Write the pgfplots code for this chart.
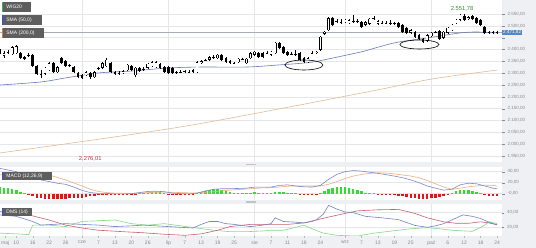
\documentclass[border=0pt]{standalone}
\usepackage{pgfplots}
\pgfplotsset{compat=1.18}
\usepackage{pgfplotstable}
\usepackage{fontspec}
\setmainfont{Liberation Sans}
\definecolor{bg}{HTML}{EEF0F3}
\definecolor{grd}{HTML}{E4E6EA}
\definecolor{tck}{HTML}{868A92}
\definecolor{smab}{HTML}{6C7AB8}
\definecolor{smat}{HTML}{E4BA92}
\definecolor{macdb}{HTML}{7C86C8}
\definecolor{macds}{HTML}{EBAE84}
\definecolor{hgreen}{HTML}{2EE02E}
\definecolor{hred}{HTML}{E01515}
\definecolor{dmsb}{HTML}{7482C6}
\definecolor{dmsg}{HTML}{86D886}
\definecolor{dmsr}{HTML}{C86070}
\definecolor{lbl}{HTML}{5E5E5E}
\definecolor{pricebox}{HTML}{4F88C8}
\definecolor{wgreen}{HTML}{3DB43D}
\definecolor{sblue}{HTML}{3050D0}
\definecolor{sorange}{HTML}{E07A30}
\definecolor{handle}{HTML}{BFC3CA}
\definecolor{prl}{HTML}{A8ADB5}
\newcommand\ft[1]{\fontsize{#1}{#1}\selectfont}

\pgfplotstableread{
x o h l c
-20 2398 2402 2380 2385
-19 2373 2392 2366 2385
-18 2388 2396 2383 2390
-17 2381 2414 2378 2410
-16 2385 2418 2382 2413
-15 2386 2390 2360 2364
-14 2368 2372 2356 2360
-13 2375 2386 2368 2378
-12 2377 2380 2327 2330
-11 2330 2333 2293 2297
-10 2296 2315 2281 2293
-9 2297 2326 2292 2322
-8 2313 2348 2310 2343
-7 2343 2346 2301 2305
-6 2305 2330 2300 2326
-5 2364 2368 2340 2343
-4 2351 2355 2327 2330
-3 2333 2338 2326 2332
-2 2326 2329 2301 2305
-1 2300 2303 2281 2284
0 2292 2296 2277 2280
1 2292 2309 2288 2305
2 2300 2304 2276.01 2284
3 2282 2308 2279 2305
4 2318 2328 2314 2322
5 2322 2347 2318 2343
6 2330 2364 2327 2356
7 2343 2347 2302 2305
8 2305 2309 2294 2298
9 2300 2308 2294 2302
10 2301 2313 2298 2309
11 2313 2339 2310 2335
12 2330 2334 2311 2314
13 2292 2325 2285 2322
14 2322 2326 2306 2309
15 2316 2325 2311 2319
16 2322 2343 2319 2339
17 2330 2351 2327 2347
18 2326 2352 2323 2347
19 2339 2343 2318 2322
20 2326 2330 2301 2305
21 2326 2329 2297 2301
22 2322 2325 2297 2301
23 2305 2310 2298 2303
24 2303 2313 2299 2306
25 2305 2313 2301 2309
26 2307 2312 2299 2305
27 2313 2316 2301 2305
28 2305 2350 2302 2347
29 2344 2355 2340 2351
30 2355 2362 2350 2357
31 2356 2372 2352 2368
32 2367 2375 2362 2369
33 2364 2380 2361 2377
34 2377 2381 2353 2356
35 2364 2367 2344 2347
36 2351 2354 2340 2343
37 2344 2348 2338 2342
38 2347 2364 2344 2360
39 2359 2366 2355 2361
40 2343 2364 2340 2360
41 2364 2389 2361 2385
42 2377 2394 2374 2390
43 2385 2389 2365 2368
44 2385 2388 2364 2368
45 2384 2392 2380 2386
46 2377 2394 2374 2390
47 2385 2432 2382 2428
48 2428 2433 2403 2406
49 2410 2413 2382 2385
50 2390 2393 2374 2377
51 2380 2390 2375 2383
52 2378 2397 2374 2381
53 2385 2388 2352 2356
54 2364 2367 2343 2347
55 2347 2368 2343 2364
56 2384 2392 2380 2386
57 2385 2394 2381 2390
58 2398 2456 2395 2453
59 2466 2478 2462 2474
60 2482 2537 2479 2533
61 2533 2537 2500 2504
62 2516 2527 2512 2520
63 2515 2528 2509 2518
64 2516 2529 2512 2525
65 2512 2528 2508 2524
66 2520 2545 2514 2522
67 2521 2527 2513 2518
68 2516 2520 2491 2495
69 2504 2520 2500 2516
70 2508 2533 2504 2529
71 2530 2541 2524 2533
72 2508 2525 2504 2520
73 2513 2519 2507 2511
74 2511 2520 2506 2513
75 2510 2523 2505 2514
76 2512 2518 2505 2509
77 2512 2516 2492 2495
78 2504 2508 2470 2474
79 2491 2494 2466 2470
80 2470 2486 2466 2482
81 2474 2478 2449 2453
82 2461 2465 2440 2444
83 2444 2447 2428 2432
84 2436 2465 2432 2461
85 2457 2474 2453 2470
86 2473 2480 2469 2475
87 2478 2482 2440 2444
88 2449 2478 2445 2474
89 2470 2495 2466 2491
90 2482 2508 2479 2504
91 2512 2529 2508 2525
92 2525 2549 2521 2546
93 2542 2551.78 2521 2525
94 2529 2541 2525 2537
95 2541 2545 2525 2529
96 2533 2537 2508 2512
97 2525 2528 2500 2504
98 2495 2499 2466 2470
99 2474 2480 2465 2470
100 2471 2479 2467 2474
101 2474 2480 2466 2471.82
}\candles

\pgfplotstableread{
x v
-20 12
-19 11
-18 10
-17 8
-16 6
-15 3
-14 1
-13 -3
-12 -5
-11 -7
-10 -8.5
-9 -9.5
-8 -10
-7 -10
-6 -10
-5 -9.5
-4 -9
-3 -8.5
-2 -8
-1 -7.5
0 -7
1 -6
2 -5
3 -3.5
4 -2
5 -1
6 -1
7 -1.5
8 -2
9 -2
10 -1.5
11 -1
12 -0.5
13 -0.5
14 0.5
15 1
16 2
17 3
18 3
19 2.5
20 1.5
21 -0.5
22 -1.5
23 -2
24 -2
25 -2
26 -2
27 -1.5
28 1
29 3
30 5
31 7
32 8
33 8
34 7
35 5.5
36 3.5
37 2
38 1.5
39 1.5
40 1
41 2
42 2.5
43 2
44 1.5
45 1
46 1
47 2.5
48 3
49 3
50 2
51 1
52 0.5
53 -1
54 -2
55 -2.5
56 -2
57 -1
58 2
59 5
60 9
61 11
62 12.5
63 13
64 12.5
65 11
66 9
67 7
68 4
69 2
70 1
71 0.5
72 -1
73 -1.5
74 -2
75 -2.5
76 -3
77 -3.5
78 -5
79 -6.5
80 -7.5
81 -8.5
82 -9.5
83 -10
84 -9.5
85 -8.5
86 -7
87 -6
88 -4
89 -2
90 1
91 4
92 6.5
93 7
94 6.5
95 5
96 3
97 0.5
98 -2
99 -3.5
100 -4.5
101 -5
}\hist

\begin{document}
\begin{tikzpicture}[x=1pt,y=1pt]
\useasboundingbox (0,0) rectangle (536,-248);
\fill[bg] (0,0) rectangle (536,-248);

% ---------------- main price panel
\begin{axis}[
  at={(0pt,0pt)}, anchor=north west,
  scale only axis, width=502pt, height=162pt,
  xmin=-19.96, xmax=102.2, ymin=1924.8, ymax=2609.2,
  axis background/.style={fill=white},
  axis line style={draw=none},
  clip mode=individual,
  xtick={0,21,42,64,85}, xticklabels={}, xmajorgrids,
  xtick style={draw=none},
  ytick={1950,2000,2050,2100,2150,2200,2250,2300,2350,2400,2450,2500,2550},
  yticklabels={{1.950,00},{2.000,00},{2.050,00},{2.100,00},{2.150,00},{2.200,00},{2.250,00},{2.300,00},{2.350,00},{2.400,00},{},{2.500,00},{2.550,00}},
  ymajorgrids, grid style={draw=grd, line width=0.4pt},
  ytick pos=right, yticklabel pos=right,
  tick align=outside, major tick length=2.5pt,
  ytick style={draw=tck, line width=0.3pt},
  yticklabel style={font=\ft{4.5}, text=tck, xshift=-0.5pt},
]
\addplot[prl, line width=0.5pt, forget plot] coordinates {(-20,2471.82) (102.2,2471.82)};
\addplot[smat, line width=0.6pt, smooth, forget plot] coordinates {
(-20,1963) (24,2073) (68,2216) (85,2275) (101,2313)};
\addplot[smab, line width=0.6pt, smooth, forget plot] coordinates {
(-20,2250) (-10,2263) (-4,2280) (4,2301) (12,2309) (21,2322) (29,2326) (40,2326) (48,2335) (56,2347) (64.5,2377) (68,2390) (76,2428) (84,2449) (92,2470) (96,2474) (101,2470)};
% wicks
\addplot[forget plot, draw=none, mark=none,
  error bars/.cd, y dir=minus, y explicit, error mark=none,
  error bar style={draw=black, line width=0.5pt}]
  table[x=x, y=h, y error minus expr={\thisrow{h}-\thisrow{l}}] {\candles};
% bodies (black)
\addplot[forget plot, draw=none, mark=none,
  error bars/.cd, y dir=minus, y explicit, error mark=none,
  error bar style={draw=black, line width=2.7pt}]
  table[x=x, y expr={max(\thisrow{o},\thisrow{c})}, y error minus expr={max(abs(\thisrow{o}-\thisrow{c}),1.6)}] {\candles};
% hollow inner of rising candles
\addplot[forget plot, draw=none, mark=none,
  restrict expr to domain={\thisrow{c}-\thisrow{o}}{5:10000},
  error bars/.cd, y dir=minus, y explicit, error mark=none,
  error bar style={draw=white, line width=1.7pt}]
  table[x=x, y expr={\thisrow{c}-2.1}, y error minus expr={\thisrow{c}-\thisrow{o}-4.2}] {\candles};
\draw[black, line width=0.6pt] (axis cs:54,2334.6) ellipse [x radius=19pt, y radius=5pt];
\draw[black, line width=0.6pt] (axis cs:82.1,2421.2) ellipse [x radius=19.5pt, y radius=4.5pt];
\node[text=wgreen!80!black, font=\ft{5.8}, anchor=south, inner sep=0pt] at (axis cs:92.5,2560) {2.551,78};
\node[text=hred!70!gray, font=\ft{5.8}, inner sep=0pt] at (axis cs:2,1937) {2.276,01};
\node[fill=pricebox, text=white, font=\ft{4.6}, anchor=west, inner xsep=1pt, inner ysep=1pt] at (axis cs:102.2,2471.82) {2.471,82};
\end{axis}

% ---------------- MACD panel
\begin{axis}[
  at={(0pt,-167pt)}, anchor=north west,
  scale only axis, width=502pt, height=33pt,
  xmin=-19.96, xmax=102.2, ymin=-11.5, ymax=48.5,
  axis background/.style={fill=white},
  axis line style={draw=none},
  xtick={0,21,42,64,85}, xticklabels={}, xmajorgrids,
  xtick style={draw=none},
  ytick={0,20,40}, yticklabels={{-0,00},{20,00},{40,00}},
  ymajorgrids, grid style={draw=grd, line width=0.4pt},
  ytick pos=right, yticklabel pos=right,
  tick align=outside, major tick length=2.5pt,
  ytick style={draw=tck, line width=0.3pt},
  yticklabel style={font=\ft{4.5}, text=tck, xshift=-0.5pt},
]
\addplot[ycomb, hgreen, line width=2.5pt, mark=none, forget plot, restrict y to domain=0:100] table[x=x,y=v] {\hist};
\addplot[ycomb, hred, line width=2.5pt, mark=none, forget plot, restrict y to domain=-100:0] table[x=x,y=v] {\hist};
\addplot[macds, line width=0.6pt, forget plot] coordinates {
(-20,34) (-16,37) (-12,36) (-8,34) (-4,25) (0,14) (2,8) (4,4) (6,2) (8,1) (10,1) (12,0.5) (14,1) (16,2) (18,2.5) (20,3) (22,2.5) (24,2) (26,1.5) (28,1.5) (30,2.5) (32,3.5) (34,5) (36,6.5) (38,7.5) (40,8.5) (42,9.5) (44,10.5) (46,11) (48,12) (50,13.5) (52,14) (54,14) (56,14) (58,14) (60,17) (62,22) (64,27.5) (66,32) (68,35) (70,37) (72,38) (74,37.5) (76,36) (78,34) (80,32) (82,29) (84,24) (86,18) (88,12) (90,8) (92,10) (94,12.5) (96,14) (98,15.5) (100,15) (101,14)};
\addplot[macdb, line width=0.6pt, forget plot] coordinates {
(-20,46) (-18,43) (-16,40) (-14,35) (-12,28) (-10,25) (-8,22) (-6,19) (-4,17) (-2,12) (0,6) (2,2) (4,0.5) (6,0.5) (8,-0.5) (10,-0.5) (12,0) (14,2) (16,4) (18,4.5) (20,3.5) (22,1) (24,0) (26,-0.5) (28,1) (30,5) (32,8) (34,9) (36,9) (38,9.5) (40,10) (42,12) (44,12) (46,12) (48,15) (50,16) (52,14) (54,12.5) (56,12) (58,15) (60,26) (62,35) (64,40) (66,42) (68,41) (70,39) (72,37) (74,34.5) (76,32) (78,29) (80,25) (82,20) (84,14) (86,10) (88,6.5) (90,8) (92,16) (94,19) (96,18) (98,14) (100,10) (101,9)};
\end{axis}

% ---------------- DMS panel
\begin{axis}[
  at={(0pt,-204pt)}, anchor=north west,
  scale only axis, width=502pt, height=32pt,
  xmin=-19.96, xmax=102.2, ymin=8.1, ymax=51.9,
  axis background/.style={fill=white},
  axis line style={draw=none},
  xtick={-18.7,-16,-12,-8,-4,0,4,8,12,16,21,25,29,33,37,42,46,50,54,58,64,68,72,76,80,85,89,93,97,101},
  xticklabels={maj,10,16,22,26,cze,7,13,20,26,lip,7,13,19,25,sie,7,11,18,24,wrz,7,13,19,25,paź,6,12,18,24},
  extra x ticks={0,21,42,64,85}, extra x tick labels={},
  extra x tick style={grid=major, major tick length=0pt},
  xtick pos=bottom, ytick pos=right, yticklabel pos=right,
  tick align=outside, major tick length=2pt,
  xtick style={draw=tck!60, line width=0.3pt},
  ytick={20,40}, yticklabels={{20,00},{40,00}},
  ymajorgrids, grid style={draw=grd, line width=0.4pt},
  ytick style={draw=tck, line width=0.3pt},
  yticklabel style={font=\ft{4.5}, text=tck, xshift=-0.5pt},
  xticklabel style={font=\ft{5}, text=tck, yshift=0.5pt},
]
\addplot[dmsg, line width=0.6pt, forget plot] coordinates {
(-20,12) (-16,11) (-13,10) (-12,23) (-8,23) (-4,21) (0,28) (4,29) (8,30) (12,25) (16,23) (20,25) (24,22) (28,19) (32,16) (36,14) (40,14) (44,15) (46,16) (49,16) (52,20) (54,23) (56,18) (58.7,12) (62,9) (67,8) (71,12) (74,14) (77,16) (80,18) (84,19.5) (87,18) (90,16) (93,15) (95,14.5) (97,20) (98,23) (99,27.6) (101,25)};
\addplot[dmsr, line width=0.6pt, forget plot] coordinates {
(-20,42) (-16,40) (-13,37) (-8,30) (-4,23) (0,19) (4,16) (10,14) (15,12.5) (20,10.5) (25,9) (29,11) (33,16) (36,21) (41,24) (45,24) (50,24) (54,26) (57,30) (60,34) (64,39) (67,42.5) (72,44) (77,44.5) (81,39) (84,33) (88,27.5) (91,25.5) (94,25.5) (97,27.5) (99,26) (101,23.4)};
\addplot[dmsb, line width=0.6pt, forget plot] coordinates {
(-20,37) (-16,35) (-12,28) (-10,23) (-7,24) (-4,25) (0,24) (4,23) (8,21) (12,22) (15,23) (18,22) (21,21) (24,20) (27,19) (29,24) (31,28) (33,28) (35,25) (37,24) (41,21) (44,23) (46,25) (47,33) (49,28) (52,27) (54,26) (56,28) (57,30) (58.7,38) (60,50) (62,45) (64,41) (66,40) (69,35) (73,33) (77,30.5) (81,22.6) (84,20) (86,22) (88,25) (90,30) (92.7,37) (95,35) (97,32) (99,27) (101,23.4)};
\end{axis}

% handles
\fill[handle] (246,-164.1) rectangle (256,-165.4);
\fill[handle] (246,-201.4) rectangle (256,-202.7);

% legend boxes
\fill[lbl] (1.7,-2.3) rectangle (30.7,-11.7);
\fill[wgreen] (1.7,-2.3) rectangle (3.2,-11.7);
\node[anchor=west, text=white, font=\ft{5}, inner sep=0pt] at (6.2,-7) {WIG20};
\fill[lbl] (1.7,-15) rectangle (41.7,-25);
\fill[sblue] (1.7,-15) rectangle (3.2,-25);
\node[anchor=west, text=white, font=\ft{5}, inner sep=0pt] at (6.2,-20) {SMA (50,0)};
\fill[lbl] (1.7,-28) rectangle (44.3,-38);
\fill[sorange] (1.7,-28) rectangle (3.2,-38);
\node[anchor=west, text=white, font=\ft{5}, inner sep=0pt] at (6.2,-33) {SMA (200,0)};
\fill[lbl] (1.7,-171.7) rectangle (51.7,-180.2);
\fill[sblue] (1.7,-171.7) rectangle (3.2,-180.2);
\node[anchor=west, text=white, font=\ft{5}, inner sep=0pt] at (6.2,-176) {MACD (12,26,9)};
\fill[lbl] (1.7,-208) rectangle (31.7,-216.5);
\fill[sblue] (1.7,-208) rectangle (3.2,-216.5);
\node[anchor=west, text=white, font=\ft{5}, inner sep=0pt] at (6.2,-212.3) {DMS (14)};
\end{tikzpicture}
\end{document}
